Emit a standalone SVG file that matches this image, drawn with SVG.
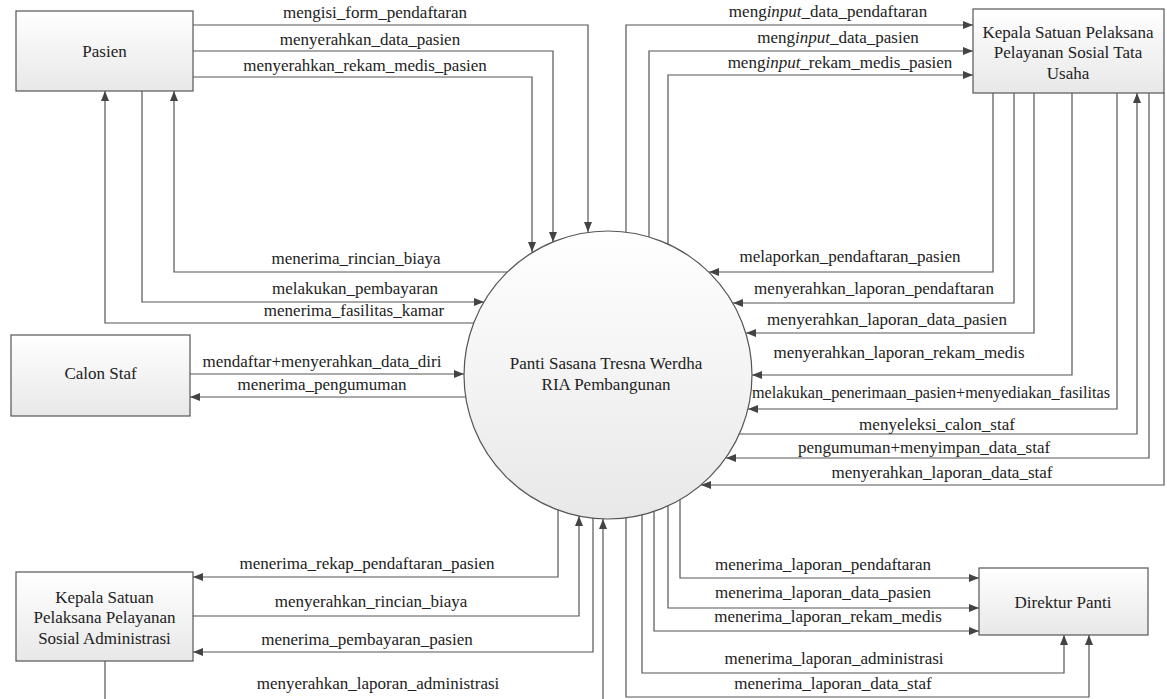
<svg xmlns="http://www.w3.org/2000/svg" width="1167" height="699" viewBox="0 0 1167 699" font-family="Liberation Serif">
<defs>
<linearGradient id="g" x1="0" y1="0" x2="0" y2="1"><stop offset="0" stop-color="#ffffff"/><stop offset="1" stop-color="#e8e8e8"/></linearGradient>
<marker id="ar" viewBox="0 0 10 8" refX="10" refY="4" markerWidth="10" markerHeight="8" markerUnits="userSpaceOnUse" orient="auto"><path d="M0,0 L10,4 L0,8 z" fill="#444"/></marker>
<style>
.box{fill:url(#g);stroke:#555;stroke-width:1.2}
text{font-family:"Liberation Serif","Times New Roman",serif;font-size:17px;fill:#222;text-anchor:middle}
.c path{fill:none;stroke:#555;stroke-width:1.2;marker-end:url(#ar)}
</style>
</defs>
<rect width="1167" height="699" fill="#fff"/>
<g id="connectors" class="c">
<path d="M193,25 H588 V232"/>
<path d="M193,51 H553 V242"/>
<path d="M193,77 H532 V252"/>
<path d="M507,272 H174 V91"/>
<path d="M142,91 V302 H484"/>
<path d="M474,323 H105 V91"/>
<path d="M190,374 H464"/>
<path d="M466,397 H190"/>
<path d="M626,232 V25 H973"/>
<path d="M649,237 V51 H973"/>
<path d="M668,244 V75 H973"/>
<path d="M993,93 V272 H709"/>
<path d="M1014,93 V303 H733"/>
<path d="M1034,93 V333 H746"/>
<path d="M1072,93 V375 H752"/>
<path d="M1117,93 V409 H748"/>
<path d="M739,434 H1137 V93"/>
<path d="M1149,93 V458 H726"/>
<path d="M1164,93 V485 H701"/>
<path d="M558,510 V577 H193"/>
<path d="M193,616 H579 V516"/>
<path d="M593,518 V652 H193"/>
<path d="M105,661 V705 H603 V519"/>
<path d="M680,500 V578 H979"/>
<path d="M668,505 V608 H979"/>
<path d="M654,511 V631 H979"/>
<path d="M642,515 V673 H1064 V635"/>
<path d="M626,517 V697 H1089 V635"/>
</g>
<g id="labels">
<text x="375" y="18">mengisi_form_pendaftaran</text>
<text x="370" y="45">menyerahkan_data_pasien</text>
<text x="365" y="71">menyerahkan_rekam_medis_pasien</text>
<text x="828" y="17">meng<tspan font-style="italic">input</tspan>_data_pendaftaran</text>
<text x="838" y="43">meng<tspan font-style="italic">input</tspan>_data_pasien</text>
<text x="840" y="68">meng<tspan font-style="italic">input</tspan>_rekam_medis_pasien</text>
<text x="356" y="264">menerima_rincian_biaya</text>
<text x="355" y="294">melakukan_pembayaran</text>
<text x="354" y="316">menerima_fasilitas_kamar</text>
<text x="322" y="367">mendaftar+menyerahkan_data_diri</text>
<text x="322" y="390">menerima_pengumuman</text>
<text x="850" y="262">melaporkan_pendaftaran_pasien</text>
<text x="874" y="294">menyerahkan_laporan_pendaftaran</text>
<text x="887" y="325">menyerahkan_laporan_data_pasien</text>
<text x="899" y="358">menyerahkan_laporan_rekam_medis</text>
<text x="931" y="398" style="font-size:16.2px">melakukan_penerimaan_pasien+menyediakan_fasilitas</text>
<text x="937" y="430">menyeleksi_calon_staf</text>
<text x="924" y="453">pengumuman+menyimpan_data_staf</text>
<text x="942" y="478">menyerahkan_laporan_data_staf</text>
<text x="367" y="569">menerima_rekap_pendaftaran_pasien</text>
<text x="371" y="607">menyerahkan_rincian_biaya</text>
<text x="367" y="645">menerima_pembayaran_pasien</text>
<text x="378" y="689">menyerahkan_laporan_administrasi</text>
<text x="823" y="570">menerima_laporan_pendaftaran</text>
<text x="823" y="598">menerima_laporan_data_pasien</text>
<text x="828" y="622">menerima_laporan_rekam_medis</text>
<text x="834" y="664">menerima_laporan_administrasi</text>
<text x="833" y="689">menerima_laporan_data_staf</text>
</g>
<g id="pasien"><rect class="box" x="16" y="11" width="177" height="80"/><text x="104.5" y="57">Pasien</text></g>
<g id="kepala-tu"><rect class="box" x="973" y="9" width="191" height="84"/><text x="1068" y="38">Kepala Satuan Pelaksana</text><text x="1068" y="58">Pelayanan Sosial Tata</text><text x="1068" y="79">Usaha</text></g>
<g id="calon-staf"><rect class="box" x="11" y="335" width="179" height="81"/><text x="100.5" y="379">Calon Staf</text></g>
<g id="kepala-admin"><rect class="box" x="16" y="572" width="177" height="89"/><text x="104.5" y="603">Kepala Satuan</text><text x="104.5" y="623">Pelaksana Pelayanan</text><text x="104.5" y="644">Sosial Administrasi</text></g>
<g id="direktur"><rect class="box" x="979" y="568" width="169" height="67"/><text x="1063" y="608">Direktur Panti</text></g>
<g id="panti"><circle class="box" cx="608" cy="375" r="144"/><text x="606" y="369">Panti Sasana Tresna Werdha</text><text x="606" y="390">RIA Pembangunan</text></g>
</svg>
